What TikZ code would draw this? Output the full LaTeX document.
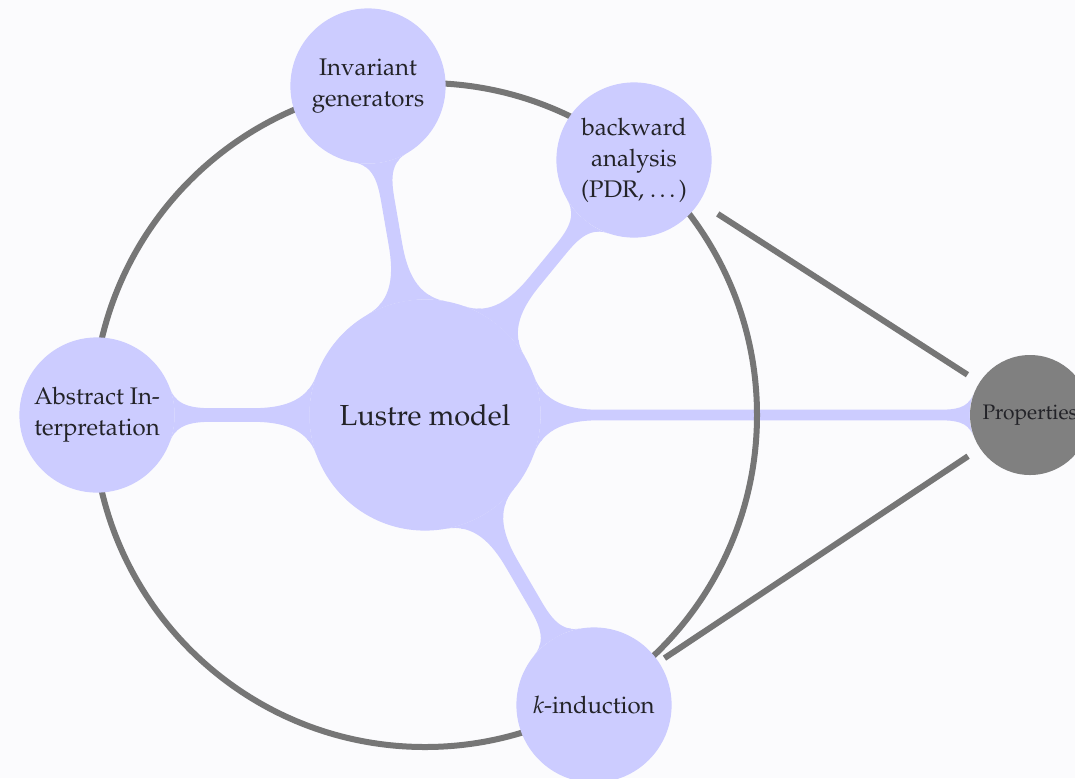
\documentclass[tikz,border=0pt]{standalone}
\usepackage[T1]{fontenc}
\usepackage{mathpazo}
\usetikzlibrary{mindmap,backgrounds}
\definecolor{conceptblue}{RGB}{204,204,255}
\definecolor{ringgray}{RGB}{118,118,118}
\definecolor{propgray}{RGB}{128,128,128}
\definecolor{paper}{RGB}{251,251,253}
\definecolor{ink}{RGB}{35,35,40}
\begin{document}
\begin{tikzpicture}[x=0.5pt,y=-0.5pt,
  idea/.style={circle, fill=conceptblue, draw=conceptblue, line width=0.6pt,
    inner sep=0pt, align=center, text=ink,
    font=\fontsize{12}{15.5}\selectfont},
  hub/.style={idea, minimum size=115pt, font=\fontsize{14.5}{17}\selectfont},
  sat/.style={idea, minimum size=77pt},
  target/.style={circle, fill=propgray, inner sep=0pt, minimum size=60pt, text=ink,
    font=\fontsize{10.5}{12}\selectfont},
  ring/.style={draw=ringgray, line width=3pt},
  tie/.style={draw=ringgray, line width=3pt},
  bar/.style={circle connection bar switch color=from (conceptblue) to (conceptblue)}
]
\useasboundingbox (0,0) rectangle (1075,778);

% concepts
\node[hub] (lustre) at (425,415) {Lustre model};
\node[sat] (inv) at (368,86) {Invariant\\generators};
\node[sat] (back) at (634,160) {backward\\analysis\\(PDR, \dots)};
\node[sat] (absint) at (97,415) {Abstract In-\\terpretation};
\node[sat] (kind) at (594,705) {\textit{k}-induction};
\node[target] (props) at (1030,415) {Properties};

% links from the engines to the properties
\draw[tie, shorten <=11pt, shorten >=7pt] (back) -- (props);
\draw[tie, shorten <=3.5pt, shorten >=7pt] (kind) -- (props);

\begin{pgfonlayer}{background}
  \fill[paper] (0,0) rectangle (1075,778);
  \path[line width=11pt] (lustre) to[bar] (inv);
  \path[line width=11pt] (lustre) to[bar] (back);
  \path[line width=7.5pt] (lustre) to[bar] (absint);
  \path[line width=11pt] (lustre) to[bar] (kind);
  \path[line width=5.5pt] (lustre) to[bar] (props);
  \coordinate (ctr) at (425,415);
  \draw[ring] (ctr) circle[radius=166pt];
\end{pgfonlayer}
\end{tikzpicture}
\end{document}
